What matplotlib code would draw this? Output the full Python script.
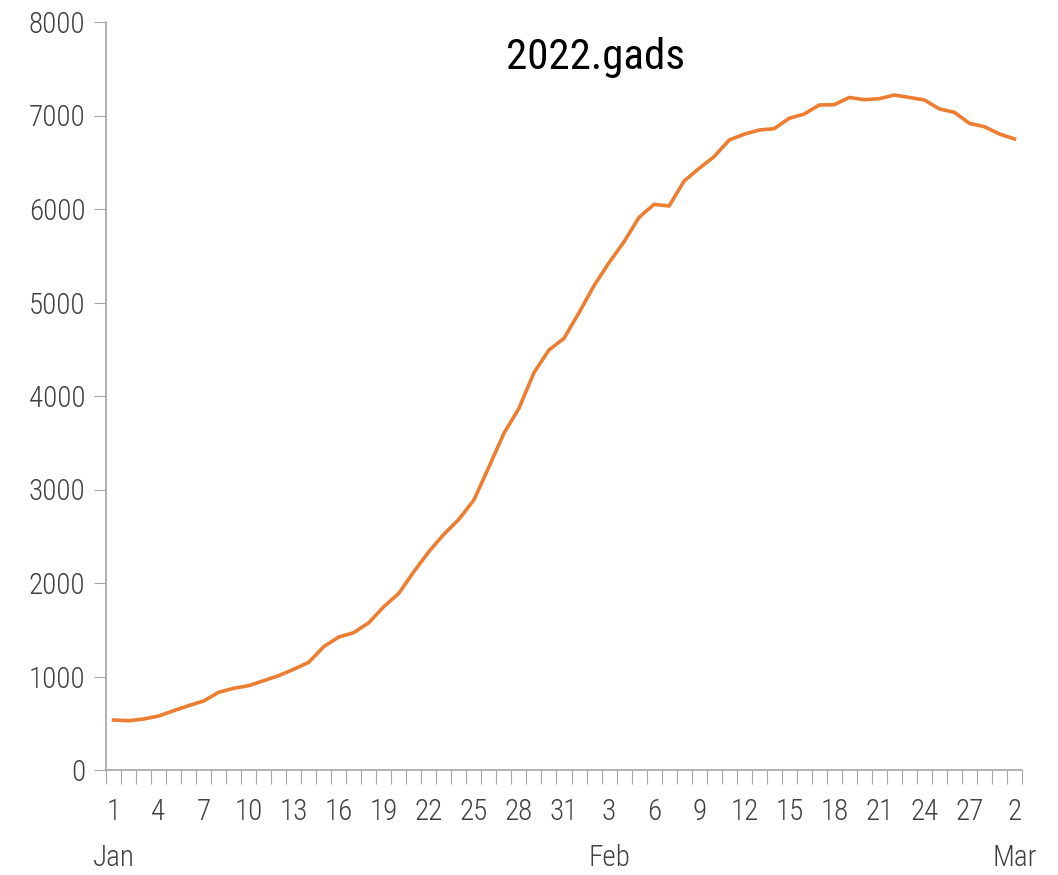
import matplotlib
matplotlib.use('Agg')
import matplotlib.pyplot as plt
from matplotlib import font_manager
import numpy as np

# daily values, 1 Jan - 2 Mar 2022
values = [535, 527, 545, 577, 634, 688, 738, 831, 874, 902,
          955, 1009, 1077, 1152, 1319, 1422, 1469, 1575, 1747, 1890,
          2121, 2335, 2521, 2681, 2888, 3241, 3601, 3868, 4250, 4492,
          4617, 4891, 5180, 5426, 5650, 5911, 6050, 6032, 6299, 6435,
          6560, 6738, 6800, 6845, 6859, 6970, 7016, 7112, 7116, 7193,
          7169, 7180, 7219, 7193, 7166, 7070, 7034, 6916, 6880, 6802,
          6749]
day_labels = [str(d) for d in range(1, 32)] + [str(d) for d in range(1, 29)] + ['1', '2']
months = ['Jan', 'Feb', 'Mar']
month_pos = [0, 33, 60]

# narrow font if there is one
names = {f.name for f in font_manager.fontManager.ttflist}
fam = 'DejaVu Sans'
for cand in ['Liberation Sans Narrow', 'Roboto Condensed', 'DejaVu Sans Condensed', 'Open Sans Condensed']:
    if cand in names:
        fam = cand
        break
plt.rcParams['font.family'] = [fam, 'DejaVu Sans']

fig = plt.figure(figsize=(10.58, 8.75), dpi=100)
ax = fig.add_axes([106/1058, 1 - 770/875, (1022 - 106)/1058, (770 - 22)/875])

x = np.arange(len(values))
ax.plot(x, values, color='#ED7D31', linewidth=2.6, solid_joinstyle='round')

ax.set_xlim(-0.5, len(values) - 0.5)
ax.set_ylim(0, 8000)
ax.set_yticks(range(0, 8001, 1000))
ax.tick_params(axis='y', direction='out', length=9, color='#A6A6A6', labelsize=21,
               labelcolor='#404040', pad=6)
for t in ax.get_yticklabels():
    t.set_fontweight('light')

# tick marks at category edges, labels every 3rd day
ax.set_xticks(np.arange(-0.5, len(values), 1))
ax.set_xticklabels([])
ax.tick_params(axis='x', direction='out', length=10, color='#A6A6A6')
ax.set_xticks(x[::3], minor=True)
ax.set_xticklabels(day_labels[::3], minor=True, fontweight='light')
ax.tick_params(axis='x', which='minor', length=0, labelsize=21, labelcolor='#404040', pad=20)

for m, p in zip(months, month_pos):
    ax.text(p, -0.118, m, transform=ax.get_xaxis_transform(), ha='center', va='center',
            fontsize=21, color='#404040', fontweight='light')

for s in ['top', 'right']:
    ax.spines[s].set_visible(False)
for s in ['left', 'bottom']:
    ax.spines[s].set_color('#A6A6A6')
    ax.spines[s].set_linewidth(1.2)

ax.text(0.534, 0.953, '2022.gads', transform=ax.transAxes, ha='center', va='center',
        fontsize=31, color='black', fontweight='normal')

plt.savefig('out.png', dpi=100)
